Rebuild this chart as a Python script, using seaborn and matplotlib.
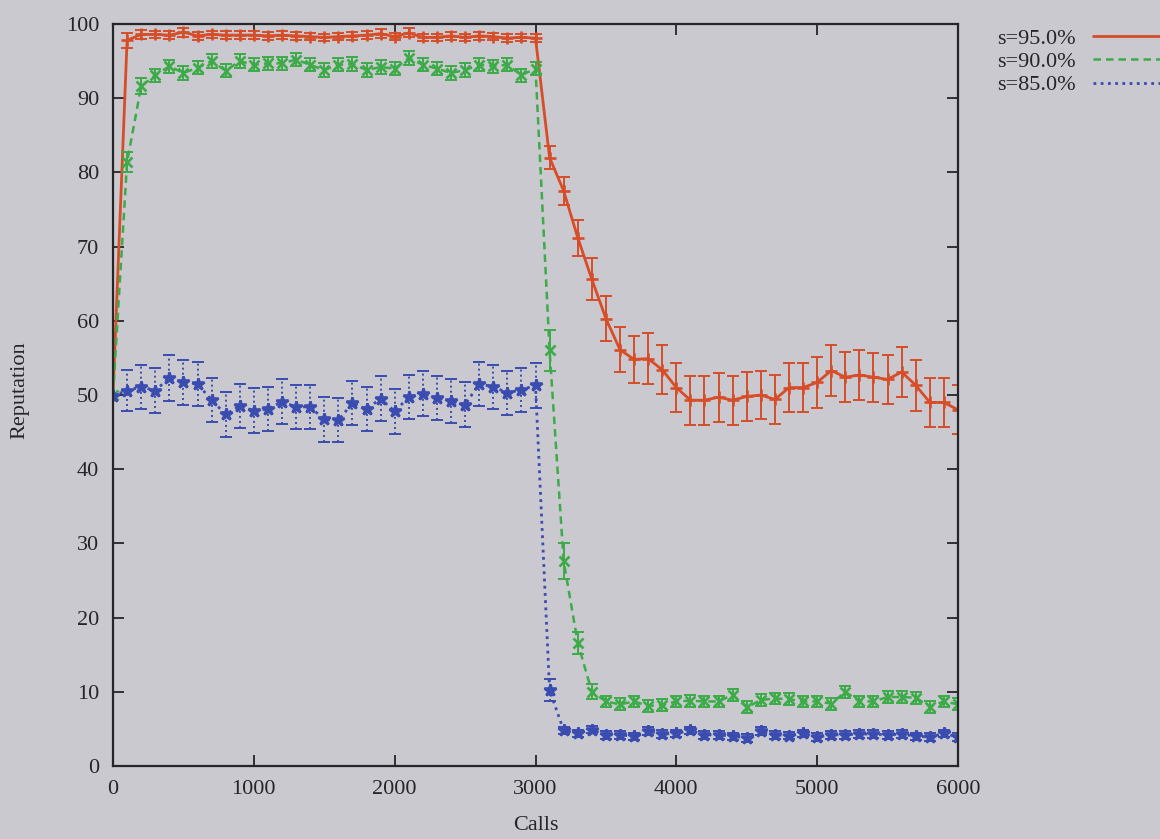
import matplotlib
matplotlib.use("Agg")
import matplotlib.pyplot as plt
from matplotlib.lines import Line2D
import numpy as np
import pandas as pd
import seaborn as sns

# ---------------- data ----------------
calls = list(range(0, 6001, 100))

rep_95 = [50.0, 97.8, 98.6, 98.6, 98.5, 98.9, 98.4, 98.6, 98.5, 98.5, 98.5,
          98.4, 98.5, 98.4, 98.3, 98.2, 98.3, 98.4, 98.5, 98.7, 98.3,
          98.8, 98.2, 98.2, 98.4, 98.2, 98.4, 98.3, 98.1, 98.2, 98.1,
          82.0, 77.5, 71.2, 65.6, 60.3, 56.1, 54.8, 54.9, 53.4, 51.0,
          49.3, 49.3, 49.7, 49.3, 49.8, 50.0, 49.4, 51.0, 51.0, 51.7,
          53.3, 52.4, 52.7, 52.4, 52.1, 53.1, 51.3, 49.0, 49.0, 48.0]
err_95 = [0.0, 1.0, 0.6, 0.5, 0.5, 0.6, 0.5, 0.5, 0.5, 0.5, 0.5,
          0.5, 0.5, 0.5, 0.5, 0.5, 0.5, 0.5, 0.5, 0.6, 0.5,
          0.6, 0.5, 0.5, 0.5, 0.5, 0.5, 0.5, 0.5, 0.5, 0.5,
          1.5, 1.9, 2.4, 2.8, 3.0, 3.0, 3.2, 3.4, 3.3, 3.3,
          3.3, 3.3, 3.3, 3.3, 3.3, 3.3, 3.3, 3.3, 3.3, 3.4,
          3.5, 3.4, 3.4, 3.3, 3.3, 3.4, 3.4, 3.3, 3.3, 3.3]

rep_90 = [50.0, 81.4, 91.6, 93.1, 94.3, 93.4, 94.1, 95.0, 93.7, 95.0, 94.5,
          94.7, 94.7, 95.2, 94.5, 93.8, 94.5, 94.6, 93.8, 94.2, 94.0,
          95.4, 94.5, 94.0, 93.4, 93.8, 94.5, 94.3, 94.5, 93.1, 94.0,
          56.0, 27.6, 16.6, 10.0, 8.7, 8.3, 8.7, 8.1, 8.2, 8.7,
          8.8, 8.7, 8.7, 9.6, 7.9, 8.9, 9.1, 9.0, 8.7, 8.7,
          8.4, 10.0, 8.7, 8.7, 9.3, 9.3, 9.2, 8.0, 8.7, 8.3]
err_90 = [0.0, 1.3, 1.1, 0.9, 0.9, 0.9, 0.9, 0.9, 0.9, 0.9, 0.9,
          0.9, 0.9, 0.9, 0.9, 0.9, 0.9, 0.9, 0.9, 0.9, 0.9,
          0.9, 0.9, 0.9, 0.9, 0.9, 0.9, 0.9, 0.9, 0.9, 0.9,
          2.8, 2.4, 1.5, 1.0, 0.8, 0.8, 0.8, 0.8, 0.8, 0.8,
          0.8, 0.8, 0.8, 0.8, 0.8, 0.8, 0.8, 0.8, 0.8, 0.8,
          0.8, 0.8, 0.8, 0.8, 0.8, 0.8, 0.8, 0.8, 0.8, 0.8]

rep_85 = [49.9, 50.6, 51.1, 50.6, 52.3, 51.7, 51.5, 49.3, 47.4, 48.5, 47.9,
          48.1, 49.1, 48.4, 48.4, 46.7, 46.6, 48.9, 48.1, 49.5, 47.8,
          49.7, 50.2, 49.6, 49.2, 48.7, 51.5, 51.1, 50.3, 50.7, 51.3,
          10.2, 4.8, 4.4, 4.9, 4.2, 4.2, 4.0, 4.7, 4.3, 4.4,
          4.8, 4.2, 4.2, 4.0, 3.8, 4.7, 4.2, 4.1, 4.4, 3.9,
          4.2, 4.2, 4.3, 4.3, 4.2, 4.3, 4.0, 3.9, 4.4, 3.9]
err_85 = [0.0, 2.8, 3.0, 3.0, 3.1, 3.0, 3.0, 3.0, 3.0, 3.0, 3.0,
          3.0, 3.0, 3.0, 3.0, 3.0, 3.0, 3.0, 3.0, 3.0, 3.0,
          3.0, 3.0, 3.0, 3.0, 3.0, 3.0, 3.0, 3.0, 3.0, 3.0,
          1.5, 0.5, 0.5, 0.5, 0.5, 0.5, 0.5, 0.5, 0.5, 0.5,
          0.5, 0.5, 0.5, 0.5, 0.5, 0.5, 0.5, 0.5, 0.5, 0.5,
          0.5, 0.5, 0.5, 0.5, 0.5, 0.5, 0.5, 0.5, 0.5, 0.5]

labels = ["s=95.0%", "s=90.0%", "s=85.0%"]
xticks = [0, 1000, 2000, 3000, 4000, 5000, 6000]
yticks = [0, 10, 20, 30, 40, 50, 60, 70, 80, 90, 100]

# ---------------- style ----------------
bg = "#cac9cf"
ink = "#262528"
sns.set_theme(style="ticks")
plt.rcParams["font.family"] = ["Liberation Serif", "DejaVu Serif"]

fig = plt.figure(figsize=(11.6, 8.39), dpi=100, facecolor=bg)
W, H = 1160, 839
left, right, top, bottom = 113, 958, 24, 766
ax = fig.add_axes([left / W, (H - bottom) / H, (right - left) / W, (bottom - top) / H])
ax.set_facecolor(bg)

series = [
    (rep_95, err_95, "#d64d28", "-", "+", 9, 2.0),
    (rep_90, err_90, "#3cab48", (0, (3, 2)), "x", 7, 1.8),
    (rep_85, err_85, "#3a4caf", (0, (1, 1.6)), "*", 9, 2.0),
]

handles = []
for (vals, errs, col, ls, mk, ms, lw), lab in zip(series, labels):
    df = pd.DataFrame({"calls": calls, "rep": vals})
    sns.lineplot(data=df, x="calls", y="rep", ax=ax, color=col, linestyle=ls,
                 linewidth=lw, marker=mk, markersize=ms, markeredgewidth=1.9,
                 markeredgecolor=col, legend=False)
    eb = ax.errorbar(calls, vals, yerr=errs, fmt="none", ecolor=col,
                     elinewidth=1.4, capsize=4.5, capthick=1.4)
    if isinstance(ls, tuple) and ls[1][0] < 2:
        for coll in eb[2]:
            coll.set_linestyle((0, (1, 1.6)))
    handles.append(Line2D([], [], color=col, linestyle=ls, linewidth=lw))

ax.set_xlim(0, 6000)
ax.set_ylim(0, 100)
ax.set_xticks(xticks)
ax.set_yticks(yticks)
ax.set_xlabel("")
ax.set_ylabel("")
ax.tick_params(direction="in", length=8, width=1.3, top=True, right=True,
               colors=ink, labelsize=16, labelcolor=ink)
ax.tick_params(axis="x", pad=10)
ax.tick_params(axis="y", pad=10)
ax.tick_params(top=True, right=True, labeltop=False, labelright=False)
for sp in ax.spines.values():
    sp.set_visible(True)
    sp.set_color(ink)
    sp.set_linewidth(1.6)

fig.text(536 / W, 1 - 826 / H, "Calls", ha="center", va="center",
         fontsize=16, color=ink)
fig.text(20 / W, 1 - 390 / H, "Reputation", ha="center", va="center",
         rotation=90, fontsize=16, color=ink)

fig.legend(handles, labels, loc="upper right", bbox_to_anchor=(1.0, 1 - 28 / H),
           markerfirst=False, frameon=False, fontsize=16, handlelength=3.0,
           labelspacing=0.13, borderpad=0, borderaxespad=0, handletextpad=0.8,
           labelcolor=ink)

fig.savefig("out.png", dpi=100, facecolor=bg)
